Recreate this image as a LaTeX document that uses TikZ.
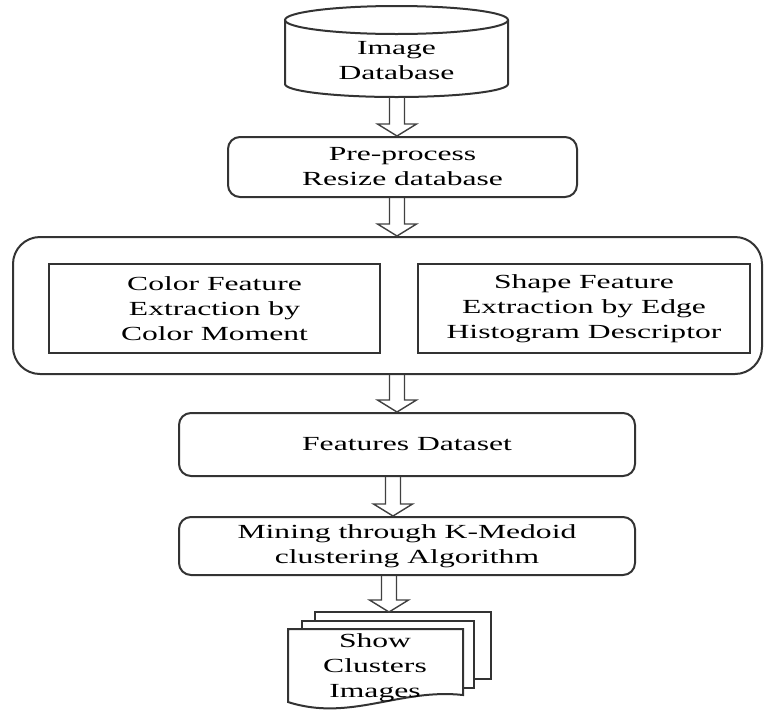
\documentclass[tikz,border=0pt]{standalone}
\usepackage{fontspec}
\setmainfont{Liberation Serif}[FakeStretch=1.58]
\usetikzlibrary{calc}

% hollow block arrow from #1 down to #2
\newcommand{\flowarrow}[2]{%
  \draw[hollow arrow] let \p1=#1, \p2=#2 in
    (\x1-3.75pt,\y1) -- (\x1-3.75pt,\y2+6pt) -- (\x1-9.75pt,\y2+6pt) -- (\x1,\y2)
    -- (\x1+9.75pt,\y2+6pt) -- (\x1+3.75pt,\y2+6pt) -- (\x1+3.75pt,\y1);}

\begin{document}
\begin{tikzpicture}[x=0.5pt, y=-0.5pt,
  every node/.style={font=\fontsize{10pt}{12.5pt}\selectfont, align=center},
  outline/.style={line width=1pt, draw=black!80},
  roundbox/.style={outline, rounded corners=6pt},
  plainbox/.style={outline},
  hollow arrow/.style={line width=0.7pt, draw=black!75, line join=miter}]
  \useasboundingbox (0,0) rectangle (765,713);

  % x positions of the arrows
  \coordinate (a1) at (397,0);
  \coordinate (a4) at (393,0);
  \coordinate (a5) at (389,0);

  % Image database (cylinder)
  \draw[outline] (285,20) -- (285,84) arc[start angle=180, end angle=0, x radius=111.5, y radius=13] -- (508,20);
  \draw[outline] (396.5,20) ellipse[x radius=111.5, y radius=14];
  \node (db) at (396.5,61) {Image\\Database};
  \coordinate (db-bot) at (397,97);

  % Pre-processing
  \node[roundbox, minimum width=174.5pt, minimum height=30pt] (prep) at (402.5,167) {Pre-process\\Resize database};

  % Feature extraction stage
  \node[outline, rounded corners=13.5pt, minimum width=374.5pt, minimum height=68.5pt] (stage) at (387.5,305.5) {};
  \node[plainbox, minimum width=165.5pt, minimum height=44.5pt] (color) at (214.5,308.5) {Color Feature\\Extraction by\\Color Moment};
  \node[plainbox, minimum width=166pt, minimum height=44.5pt] (shape) at (584,308.5) {Shape Feature\\Extraction by Edge\\Histogram Descriptor};

  % Dataset and mining
  \node[roundbox, minimum width=228pt, minimum height=31.5pt] (feat) at (407,444.5) {Features Dataset};
  \node[roundbox, minimum width=228pt, minimum height=29pt] (mine) at (407,546) {Mining through K-Medoid\\clustering Algorithm};

  % Output documents
  \draw[outline, fill=white] (315,612) rectangle (491,679);
  \draw[outline, fill=white] (302,621) rectangle (474,688);
  \draw[outline, fill=white] (288,629) -- (463,629) -- (463,695)
    .. controls (400,688) and (350,722) .. (288,702) -- cycle;
  \node (out) at (375,668) {Show\\Clusters\\Images};
  \coordinate (out-top) at (389,612);

  % Arrows
  \flowarrow{(db-bot)}{(prep.north -| a1)}
  \flowarrow{(prep.south -| a1)}{(stage.north -| a1)}
  \flowarrow{(stage.south -| a1)}{(feat.north -| a1)}
  \flowarrow{(feat.south -| a4)}{(mine.north -| a4)}
  \flowarrow{(mine.south -| a5)}{(out-top)}
\end{tikzpicture}
\end{document}
